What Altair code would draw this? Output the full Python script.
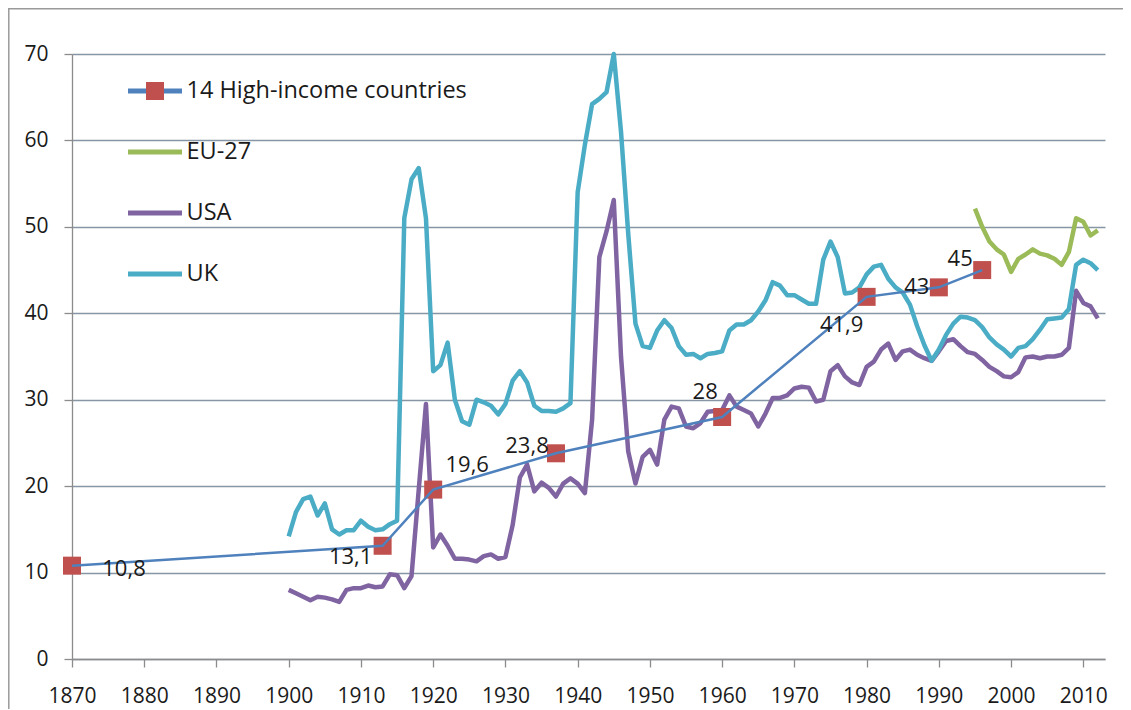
import altair as alt
import pandas as pd

# ---------------- data ----------------
series_names = ["14 High-income countries", "EU-27", "USA", "UK"]
series_colors = ["#4F81BD", "#9BBB59", "#8064A2", "#4BACC6"]
marker_color = "#C0504D"

hi_years = [1870, 1913, 1920, 1937, 1960, 1980, 1990, 1996]
hi_values = [10.8, 13.1, 19.6, 23.8, 28.0, 41.9, 43.0, 45.0]
hi_labels = ["10,8", "13,1", "19,6", "23,8", "28", "41,9", "43", "45"]

uk_years = list(range(1900, 2013))
uk_values = [
    14.2, 17.0, 18.5, 18.8, 16.6, 18.0, 15.0, 14.4, 14.9, 14.9,   # 1900-1909
    16.0, 15.3, 14.9, 15.0, 15.6, 16.0, 51.0, 55.5, 56.8, 51.0,   # 1910-1919
    33.3, 34.0, 36.6, 30.0, 27.5, 27.1, 30.0, 29.7, 29.3, 28.3,   # 1920-1929
    29.5, 32.2, 33.3, 32.0, 29.3, 28.7, 28.7, 28.6, 29.0, 29.6,   # 1930-1939
    54.0, 59.5, 64.2, 64.8, 65.6, 70.0, 61.0, 49.2, 38.8, 36.2,   # 1940-1949
    36.0, 38.0, 39.2, 38.3, 36.2, 35.2, 35.3, 34.8, 35.3, 35.4,   # 1950-1959
    35.6, 38.0, 38.7, 38.7, 39.2, 40.2, 41.5, 43.6, 43.2, 42.1,   # 1960-1969
    42.1, 41.6, 41.1, 41.1, 46.2, 48.3, 46.5, 42.3, 42.4, 43.0,   # 1970-1979
    44.5, 45.4, 45.6, 44.0, 43.0, 42.4, 41.0, 38.5, 36.3, 34.5,   # 1980-1989
    35.8, 37.5, 38.8, 39.6, 39.5, 39.2, 38.4, 37.2, 36.4, 35.8,   # 1990-1999
    35.0, 36.0, 36.2, 37.0, 38.1, 39.3, 39.4, 39.5, 40.5, 45.6,   # 2000-2009
    46.2, 45.8, 45.0,                                             # 2010-2012
]

usa_years = list(range(1900, 2013))
usa_values = [
    8.0, 7.6, 7.2, 6.8, 7.2, 7.1, 6.9, 6.6, 8.0, 8.2,             # 1900-1909
    8.2, 8.5, 8.3, 8.4, 9.8, 9.7, 8.2, 9.6, 19.6, 29.5,           # 1910-1919
    12.9, 14.4, 13.1, 11.6, 11.6, 11.5, 11.3, 11.9, 12.1, 11.6,   # 1920-1929
    11.8, 15.5, 21.0, 22.5, 19.4, 20.4, 19.8, 18.8, 20.3, 20.9,   # 1930-1939
    20.3, 19.2, 27.7, 46.5, 49.5, 53.1, 35.0, 24.0, 20.3, 23.4,   # 1940-1949
    24.2, 22.5, 27.7, 29.2, 29.0, 26.9, 26.7, 27.3, 28.6, 28.7,   # 1950-1959
    28.8, 30.5, 29.2, 28.8, 28.4, 26.9, 28.4, 30.2, 30.2, 30.5,   # 1960-1969
    31.3, 31.5, 31.4, 29.8, 30.0, 33.3, 34.0, 32.7, 32.0, 31.7,   # 1970-1979
    33.8, 34.4, 35.8, 36.5, 34.6, 35.6, 35.8, 35.2, 34.8, 34.5,   # 1980-1989
    35.6, 36.8, 37.0, 36.2, 35.5, 35.3, 34.6, 33.8, 33.3, 32.7,   # 1990-1999
    32.6, 33.2, 34.9, 35.0, 34.8, 35.0, 35.0, 35.2, 36.0, 42.6,   # 2000-2009
    41.2, 40.8, 39.4,                                             # 2010-2012
]

eu_years = list(range(1995, 2013))
eu_values = [52.1, 50.0, 48.3, 47.4, 46.8, 44.8, 46.3, 46.8, 47.4, 46.9,
             46.7, 46.3, 45.6, 47.1, 51.0, 50.6, 49.0, 49.6]

x_ticks = list(range(1870, 2011, 10))
y_ticks = list(range(0, 71, 10))

# ---------------- styles ----------------
FONT = "Open Sans"
TEXT = "#1a1a1a"
AXIS = "#8C8C8C"
GRID = "#8796A5"
W, H = 1033, 605
PAD = {"left": 64, "top": 46, "right": 18, "bottom": 50}
label_offsets = {  # dx, dy in px for each data label
    1870: (52, 3), 1913: (-32, 11), 1920: (34, -25), 1937: (-29, -7),
    1960: (-17, -25), 1980: (-25, 28), 1990: (-22, 0), 1996: (-22, -11),
}

# ---------------- frames ----------------
rows = []
for name, ys, vs in [("UK", uk_years, uk_values), ("USA", usa_years, usa_values),
                     ("EU-27", eu_years, eu_values)]:
    assert len(ys) == len(vs)
    rows += [{"year": y, "value": v, "series": name} for y, v in zip(ys, vs)]
countries = pd.DataFrame(rows)
hi = pd.DataFrame({"year": hi_years, "value": hi_values, "label": hi_labels,
                   "series": series_names[0]})

xscale = alt.Scale(domain=[1870, 2013], nice=False, zero=False)
yscale = alt.Scale(domain=[0, 70], nice=False)
xaxis = alt.Axis(values=x_ticks, format="d", title=None, grid=False,
                 labelFont=FONT, labelFontSize=21, labelColor=TEXT,
                 labelPadding=18, tickSize=8, tickColor=AXIS, tickWidth=1.3,
                 domainColor=AXIS, domainWidth=1.3, labelFlush=False)
yaxis = alt.Axis(values=y_ticks, title=None, grid=True, gridColor=GRID,
                 gridWidth=1.3, labelFont=FONT, labelFontSize=21,
                 labelColor=TEXT, labelPadding=16, tickSize=8, tickColor=AXIS,
                 tickWidth=1.3, domainColor=AXIS, domainWidth=1.3)

color_scale = alt.Scale(domain=series_names, range=series_colors)
color_legend = alt.Legend(title=None, orient="none", legendX=53.5, legendY=7.5,
                          direction="vertical", symbolType="stroke",
                          symbolSize=2916, symbolStrokeWidth=5,
                          labelFont=FONT, labelFontSize=23.5, labelColor=TEXT,
                          labelOffset=2, rowPadding=20, padding=0,
                          labelLimit=500, zindex=1)
fill_legend = alt.Legend(title=None, orient="none", legendX=74, legendY=28,
                         symbolType="square", symbolSize=324,
                         symbolStrokeWidth=0, labelExpr="''", padding=0,
                         labelFontSize=1, zindex=2)

X = alt.X("year:Q", scale=xscale, axis=xaxis)
Y = alt.Y("value:Q", scale=yscale, axis=yaxis)

base = alt.Chart(countries)
layers = []
for name in ["EU-27", "USA", "UK"]:
    layers.append(
        base.transform_filter(alt.datum.series == name)
        .mark_line(strokeWidth=4.5, strokeJoin="round")
        .encode(x=X, y=Y, color=alt.Color("series:N", scale=color_scale,
                                          legend=color_legend))
    )

hi_base = alt.Chart(hi)
markers = hi_base.mark_point(shape="square", filled=True, size=324,
                             opacity=1).encode(
    x=X, y=Y,
    fill=alt.Fill("series:N", scale=alt.Scale(domain=[series_names[0]],
                                              range=[marker_color]),
                  legend=fill_legend))
hi_line = hi_base.mark_line(strokeWidth=2.5).encode(
    x=X, y=Y, color=alt.Color("series:N", scale=color_scale,
                              legend=color_legend))
layers += [markers, hi_line]

for yr, (dx, dy) in label_offsets.items():
    layers.append(
        hi_base.transform_filter(alt.datum.year == yr)
        .mark_text(font=FONT, fontSize=22, color=TEXT, dx=dx, dy=dy,
                   align="center", baseline="middle")
        .encode(x=X, y=Y, text="label:N")
    )

frame = pd.DataFrame({"k": [0]})
left_border = alt.Chart(frame).mark_rule(color="#9A9A9A", strokeWidth=1.5).encode(
    x=alt.value(-63.2), y=alt.value(-46), y2=alt.value(H + PAD["bottom"]))
top_border = alt.Chart(frame).mark_rule(color="#9A9A9A", strokeWidth=1.5).encode(
    x=alt.value(-64), x2=alt.value(W + PAD["right"]), y=alt.value(-45.2))
layers += [left_border, top_border]

chart = alt.layer(*layers).resolve_scale(color="shared").properties(
    width=W, height=H, padding=PAD,
    autosize=alt.AutoSizeParams(type="none"),
    background="white",
).configure_view(strokeWidth=0)

chart.save("out.html", embed_options={"renderer": "svg", "actions": False})
